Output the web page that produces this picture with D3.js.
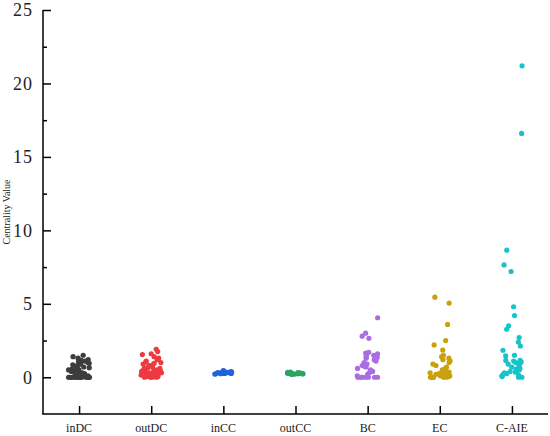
<!DOCTYPE html>
<html>
<head>
<meta charset="utf-8">
<script src="https://cdn.jsdelivr.net/npm/d3@7/dist/d3.min.js"></script>
<style>
  body { margin: 0; background: #fff; }
  svg { display: block; }
  text { font-family: "Liberation Serif", "Times New Roman", serif; }
</style>
</head>
<body>
<div id="grafico"></div>
<script>
    ancho = 550;
    alto = 436;

    categorias = ["inDC", "outDC", "inCC", "outCC", "BC", "EC", "C-AIE"];
    colores = ["#3d3d3d", "#ec3a40", "#1f62dc", "#2aa564", "#a86ee2", "#c9a00e", "#16c3c9"];

    inDC = [0,0,0,0,0,0,0,0,0,0,0,0,0,0,0.05,0.1,0.1,0.15,0.2,0.2,0.25,0.3,0.3,0.35,0.4,0.45,0.5,0.5,0.55,0.6,0.65,0.7,0.75,0.8,0.85,0.9,0.95,1.0,1.05,1.1,1.15,1.2,1.3,1.4,1.5];
    outDC = [0,0,0,0,0.05,0.05,0.1,0.1,0.1,0.15,0.15,0.2,0.2,0.2,0.25,0.25,0.3,0.3,0.3,0.35,0.35,0.4,0.4,0.45,0.45,0.5,0.5,0.55,0.6,0.6,0.65,0.7,0.75,0.8,0.85,0.9,0.95,1.0,1.05,1.1,1.2,1.3,1.4,1.55,1.6,1.75,1.9];
    inCC = [0.22,0.24,0.25,0.25,0.26,0.27,0.27,0.28,0.28,0.29,0.3,0.3,0.31,0.32,0.33,0.34,0.35,0.36,0.38,0.4,0.42,0.45];
    outCC = [0.2,0.21,0.22,0.23,0.24,0.25,0.25,0.26,0.27,0.28,0.29,0.3,0.31,0.32,0.33,0.35];
    BC = [0,0,0,0,0,0,0,0,0.1,0.2,0.3,0.4,0.5,0.6,0.7,0.75,0.8,0.9,1.0,1.1,1.2,1.3,1.35,1.4,1.5,1.55,1.6,1.65,1.7,2.65,2.8,3.0,4.05];
    EC = [0,0,0,0,0,0,0,0.05,0.05,0.1,0.1,0.1,0.15,0.15,0.2,0.2,0.2,0.25,0.3,0.3,0.35,0.4,0.45,0.5,0.6,0.7,0.8,0.9,1.0,1.1,1.2,1.3,1.4,1.5,1.85,2.2,2.5,3.6,5.05,5.45];
    CAIE = [0,0,0.05,0.1,0.15,0.2,0.25,0.3,0.35,0.4,0.45,0.5,0.55,0.6,0.7,0.8,0.9,0.95,1.0,1.05,1.1,1.15,1.15,1.45,1.5,1.84,2.13,2.4,2.7,3.27,3.5,4.2,4.8,7.2,7.65,8.65,16.6,21.2];

    series = [inDC, outDC, inCC, outCC, BC, EC, CAIE];
    ticksY = [0, 5, 10, 15, 20, 25];
    ticksMenores = [2.5, 7.5, 12.5, 17.5, 22.5];

    var svg = d3.select("#grafico")
        .append("svg")
        .attr("width", ancho)
        .attr("height", alto);

    var escalaX = d3.scalePoint()
        .domain(categorias)
        .range([43, 548])
        .padding(0.5);

    var escalaY = d3.scaleLinear()
        .domain([-2.5, 25])
        .range([414, 10]);

    // jitter determinista (no aleatorio) para separar los puntos
    function jitter(i, k) {
        var s = Math.sin(i * 12.9898 + k * 78.233) * 43758.5453;
        return (s - Math.floor(s)) * 2 - 1;
    }

    var puntos = [];
    series.forEach(function (vals, k) {
        vals.forEach(function (v, i) {
            puntos.push({cat: categorias[k], v: v, k: k, j: jitter(i, k)});
        });
    });

    var ancho_jit = k => (k == 2 || k == 3) ? 9 : 10.5;

    svg.append("g")
        .selectAll("circle")
        .data(puntos)
        .enter()
        .append("circle")
        .attr("cx", d => escalaX(d.cat) + d.j * ancho_jit(d.k))
        .attr("cy", d => escalaY(d.v))
        .attr("r", 2.6)
        .attr("fill", d => colores[d.k]);

    // eje Y: ticks mayores y menores hacia dentro
    var ejeY = svg.append("g")
        .attr("transform", "translate(43,0)")
        .call(d3.axisRight(escalaY).tickValues(ticksY).tickSize(8).tickFormat(""));
    ejeY.select(".domain").remove();

    var ejeYmenor = svg.append("g")
        .attr("transform", "translate(43,0)")
        .call(d3.axisRight(escalaY).tickValues(ticksMenores).tickSize(4).tickFormat(""));
    ejeYmenor.select(".domain").remove();

    svg.selectAll(".tick line").attr("stroke", "#000").attr("stroke-width", 1.5);

    svg.append("line")
        .attr("x1", 43).attr("x2", 43)
        .attr("y1", escalaY(25)).attr("y2", escalaY(-2.5))
        .attr("stroke", "#000").attr("stroke-width", 1.5);

    svg.append("g")
        .selectAll("text")
        .data(ticksY)
        .enter()
        .append("text")
        .text(d => d)
        .attr("x", 33)
        .attr("y", d => escalaY(d))
        .attr("dy", "0.35em")
        .attr("text-anchor", "end")
        .attr("font-size", "18px")
        .attr("letter-spacing", "1px")
        .attr("fill", "#222");

    // eje X
    var ejeX = svg.append("g")
        .attr("transform", "translate(0,414)")
        .call(d3.axisTop(escalaX).tickSize(8).tickFormat(""));
    ejeX.select(".domain").remove();
    ejeX.selectAll("line").attr("stroke", "#000").attr("stroke-width", 1.5);

    svg.append("line")
        .attr("x1", 42.25).attr("x2", 548)
        .attr("y1", 414).attr("y2", 414)
        .attr("stroke", "#000").attr("stroke-width", 1.5);

    svg.append("g")
        .selectAll("text")
        .data(categorias)
        .enter()
        .append("text")
        .text(d => d)
        .attr("x", d => escalaX(d))
        .attr("y", 432)
        .attr("text-anchor", "middle")
        .attr("font-size", "12px")
        .attr("fill", "#222");

    svg.append("text")
        .text("Centrality Value")
        .attr("transform", "translate(10,212) rotate(-90)")
        .attr("text-anchor", "middle")
        .attr("font-size", "10px")
        .attr("fill", "#222");
</script>
</body>
</html>
